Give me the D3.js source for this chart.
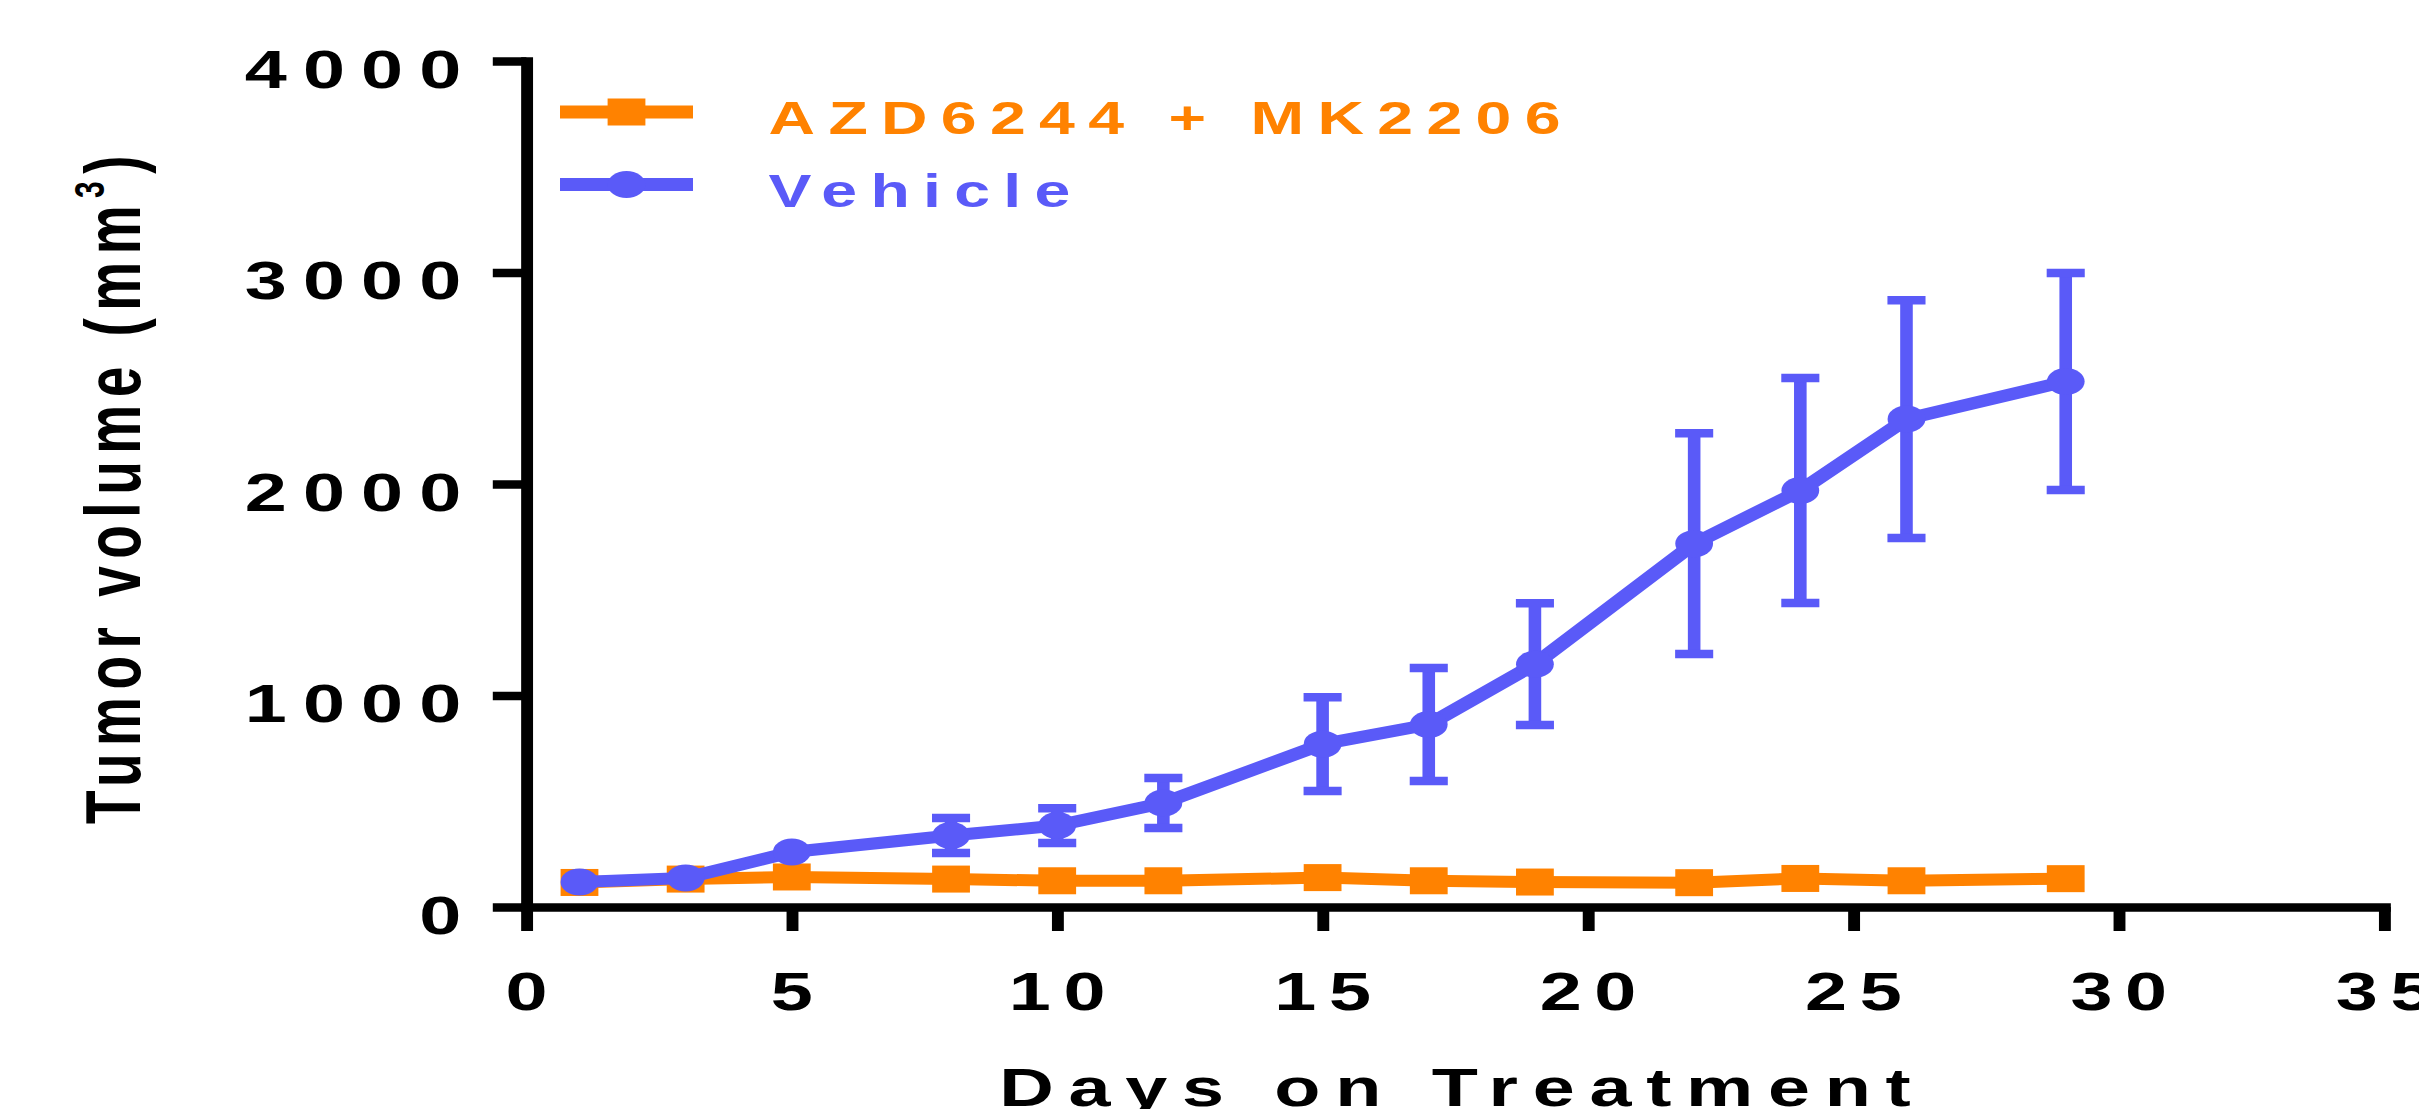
<!DOCTYPE html>
<html>
<head>
<meta charset="utf-8">
<script src="https://cdn.jsdelivr.net/npm/d3@7"></script>
<style>
  html, body { margin: 0; padding: 0; background: #fff; }
  svg { display: block; }
  text { font-family: "Liberation Sans", Arial, Helvetica, sans-serif; font-weight: bold; }
</style>
</head>
<body>
<div id="chart"></div>
<script>
// Tumor volume vs days on treatment, two groups, mean +/- error.
// Values.

const DAYS = [1, 3, 5, 8, 10, 12, 15, 17, 19, 22, 24, 26, 29];

const COMBO_MEAN = [116, 132, 142, 132, 124, 124, 139, 124, 118, 115, 135, 124, 134];

const VEHICLE_MEAN = [118, 137, 260, 338, 385, 492, 770, 863, 1148, 1718, 1969, 2307, 2485];
// error bars on the first three days are hidden behind the markers
const VEHICLE_ERR = [0, 0, 0, 83, 82, 118, 222, 267, 288, 522, 532, 562, 513];

const X_TICKS = [0, 5, 10, 15, 20, 25, 30, 35];
const Y_TICKS = [0, 1000, 2000, 3000, 4000];

const SERIES = [
  { key: 'combo', label: 'AZD6244 + MK2206', color: '#ff8200', marker: 'square', mean: COMBO_MEAN, err: null },
  { key: 'vehicle', label: 'Vehicle', color: '#5a5af8', marker: 'circle', mean: VEHICLE_MEAN, err: VEHICLE_ERR },
];

const d3 = window.d3;

const WIDTH = 2419;
const HEIGHT = 1109;

// The source figure was exported stretched sideways (~1.4x): markers come
// out as ellipses, text is wide and vertical strokes are thicker than
// horizontal ones. Easiest way to get all of that is to draw in an
// unstretched space and scale x on the whole group.
const STRETCH_X = 1.4;

const AXIS_STROKE = 8.5;
const TICK_LEN = 24;
const LINE_STROKE = 12;
const MARKER = 27;
const CAP_HALF = 13.6;

const svg = d3.select('#chart').append('svg').attr('width', WIDTH).attr('height', HEIGHT);
const g = svg.append('g').attr('transform', `scale(${STRETCH_X},1)`);

const x = d3.scaleLinear().domain([0, 35]).range([376, 1703]);
const y = d3.scaleLinear().domain([0, 4000]).range([907, 61]);

function styleAxis(sel, spacing) {
  sel.attr('font-size', null).attr('font-family', null);
  sel.select('.domain')
    .attr('stroke', '#000')
    .attr('stroke-width', AXIS_STROKE)
    .attr('stroke-linecap', 'square');
  sel.selectAll('.tick line').attr('stroke', '#000').attr('stroke-width', AXIS_STROKE);
  sel.selectAll('.tick text')
    .attr('fill', '#000')
    .style('font-size', '54px')
    .style('letter-spacing', `${spacing}px`);
}

// axes
g.append('g')
  .attr('transform', `translate(${x(0)},0)`)
  .call(d3.axisLeft(y).tickValues(Y_TICKS).tickFormat(d3.format('d'))
    .tickSizeInner(TICK_LEN).tickSizeOuter(0).tickPadding(11))
  .call(styleAxis, 11.5)
  .call((a) => a.selectAll('.tick text').attr('dy', '0.49em'));

g.append('g')
  .attr('transform', `translate(0,${y(0)})`)
  .call(d3.axisBottom(x).tickValues(X_TICKS).tickSizeInner(TICK_LEN).tickSizeOuter(0).tickPadding(41))
  .call(styleAxis, 9)
  .call((a) => a.selectAll('.tick text').attr('dx', '4px'));

// axis titles
g.append('text')
  .attr('x', (x(0) + x(35)) / 2 + 5)
  .attr('y', 1106)
  .attr('text-anchor', 'middle')
  .style('font-size', '54px')
  .style('letter-spacing', '10.5px')
  .text('Days on Treatment');

const yTitle = g.append('text')
  .attr('transform', `translate(100,${(y(0) + y(4000)) / 2 + 2}) rotate(-90)`)
  .attr('text-anchor', 'middle')
  .style('font-size', '55px')
  .style('letter-spacing', '7.5px');
yTitle.append('tspan').text('Tumor volume (mm');
yTitle.append('tspan').attr('dy', -26).style('font-size', '30px').text('3');
yTitle.append('tspan').attr('dy', 26).text(')');

// series
const line = d3.line()
  .x((d) => x(d.day))
  .y((d) => y(d.mean));

function drawMarker(sel, s) {
  if (s.marker === 'square') {
    sel.append('rect')
      .attr('x', -MARKER / 2).attr('y', -MARKER / 2)
      .attr('width', MARKER).attr('height', MARKER)
      .attr('fill', s.color);
  } else {
    sel.append('circle').attr('r', MARKER / 2).attr('fill', s.color);
  }
}

SERIES.forEach((s) => {
  const pts = DAYS.map((day, i) => ({ day, mean: s.mean[i], err: s.err ? s.err[i] : 0 }));
  const sg = g.append('g').attr('class', `series-${s.key}`);

  const bars = sg.selectAll('g.err')
    .data(pts.filter((d) => d.err > 0))
    .join('g')
    .attr('class', 'err')
    .attr('stroke', s.color);
  bars.append('line')
    .attr('x1', (d) => x(d.day)).attr('x2', (d) => x(d.day))
    .attr('y1', (d) => y(d.mean - d.err)).attr('y2', (d) => y(d.mean + d.err))
    .attr('stroke-width', 9);
  [-1, 1].forEach((sign) => {
    bars.append('line')
      .attr('x1', (d) => x(d.day) - CAP_HALF).attr('x2', (d) => x(d.day) + CAP_HALF)
      .attr('y1', (d) => y(d.mean + sign * d.err)).attr('y2', (d) => y(d.mean + sign * d.err))
      .attr('stroke-width', AXIS_STROKE);
  });

  sg.append('path')
    .datum(pts)
    .attr('fill', 'none')
    .attr('stroke', s.color)
    .attr('stroke-width', LINE_STROKE)
    .attr('stroke-linejoin', 'round')
    .attr('d', line);

  sg.selectAll('g.pt')
    .data(pts)
    .join('g')
    .attr('class', 'pt')
    .attr('transform', (d) => `translate(${x(d.day)},${y(d.mean)})`)
    .each(function () { drawMarker(d3.select(this), s); });
});

// legend, top left inside the plot
const LEGEND_X = 400;
const LEGEND_SWATCH = 95;
const LEGEND_ROWS = [112, 184.5];

SERIES.forEach((s, i) => {
  const item = g.append('g').attr('transform', `translate(${LEGEND_X},${LEGEND_ROWS[i]})`);
  item.append('line')
    .attr('x1', 0).attr('x2', LEGEND_SWATCH)
    .attr('stroke', s.color)
    .attr('stroke-width', 13);
  drawMarker(item.append('g').attr('transform', `translate(${LEGEND_SWATCH / 2},0)`), s);
  item.append('text')
    .attr('x', 149)
    .attr('y', 22)
    .attr('fill', s.color)
    .style('font-size', '46px')
    .style('letter-spacing', '9.5px')
    .text(s.label);
});
</script>
</body>
</html>
